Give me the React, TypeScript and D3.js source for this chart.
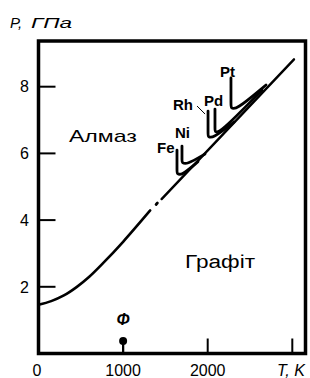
import React from "react";
import * as d3 from "d3";

const W = 310;
const H = 378;

// Main diamond/graphite equilibrium line (T in K, P in GPa)
const curveT = [0, 150, 300, 450, 600, 760, 1000, 1320];
const curveP = [1.46, 1.57, 1.74, 1.99, 2.3, 2.7, 3.35, 4.29];
const dotT = [1390, 1405];
const dotP = [4.47, 4.51];
const upperT = [1455, 3020];
const upperP = [4.63, 8.82];

// catalyst lines
const catNames = ["Fe", "Ni", "Rh", "Pd", "Pt"];
const catT = [
  [1637, 1637, 1684, 1885],
  [1696, 1696, 1743, 1968],
  [2004, 2004, 2051, 2311],
  [2086, 2086, 2134, 2642],
  [2275, 2275, 2323, 2689],
];
const catP = [
  [6.1, 5.41, 5.32, 5.75],
  [6.22, 5.74, 5.65, 5.98],
  [7.27, 6.52, 6.43, 6.94],
  [7.33, 6.67, 6.58, 7.9],
  [8.26, 7.39, 7.27, 8.05],
];
const labelT = [1402, 1613, 1590, 1956, 2145];
const labelP = [6.01, 6.46, 7.3, 7.42, 8.29];
const rhLeaderT = [1874, 1969];
const rhLeaderP = [7.42, 7.18];

const xTicks = [0, 1000, 2000, 3000];
const xTickLabels = ["0", "1000", "2000"];
const yTicks = [2, 4, 6, 8];

const regionNames = ["Алмаз", "Графіт"];
const regionT = [360, 1732];
const regionP = [6.34, 2.56];

const phiT = 1000;
const phiP = 0.85;
const phiDotP = 0.375;

export default function App() {
  const x = d3.scaleLinear().domain([0, 3156]).range([38.5, 305.5]);
  const y = d3.scaleLinear().domain([0, 9.37]).range([353.5, 41]);
  const lineC = d3
    .line<[number, number]>()
    .x((d) => x(d[0]))
    .y((d) => y(d[1]))
    .curve(d3.curveCatmullRom.alpha(0.5));
  const lineL = d3
    .line<[number, number]>()
    .x((d) => x(d[0]))
    .y((d) => y(d[1]));
  const lineB = d3
    .line<[number, number]>()
    .x((d) => x(d[0]))
    .y((d) => y(d[1]))
    .curve(d3.curveBasis);

  const zip = (a: number[], b: number[]) => a.map((v, i) => [v, b[i]] as [number, number]);
  const font = "'Liberation Sans', Arial, sans-serif";
  const x0 = x(0);
  const x1 = x(3156);
  const y0 = y(0);
  const y1 = y(9.37);

  return (
    <svg width={W} height={H} style={{ position: "absolute", left: 0, top: 0, background: "#fff" }}>
      <rect x={0} y={0} width={W} height={H} fill="#fff" />
      {/* frame */}
      <rect x={x0} y={y1} width={x1 - x0} height={y0 - y1} fill="none" stroke="#000" strokeWidth={3.5} />
      {/* y ticks */}
      {yTicks.map((t) => (
        <g key={t}>
          <line x1={x0} x2={x0 + 17} y1={y(t)} y2={y(t)} stroke="#000" strokeWidth={2} />
          <text x={29} y={y(t)} dy="0.36em" textAnchor="end" fontFamily={font} fontSize={16}>
            {t}
          </text>
        </g>
      ))}
      {/* x ticks */}
      {xTicks.slice(1).map((t) => (
        <line key={t} x1={x(t)} x2={x(t)} y1={y0} y2={y0 - 15} stroke="#000" strokeWidth={2} />
      ))}
      {xTickLabels.map((l, i) => (
        <text key={l} x={x(xTicks[i]) - (i === 0 ? 1.5 : 0)} y={376} textAnchor="middle" fontFamily={font} fontSize={16}>
          {l}
        </text>
      ))}
      <text x={277} y={376} fontFamily={font} fontSize={16} fontStyle="italic">
        T, K
      </text>
      <text x={10} y={28} fontFamily={font} fontSize={15} fontStyle="italic">
        P,
      </text>
      <text x={31} y={28} fontFamily={font} fontSize={15} fontStyle="italic" textLength={41} lengthAdjust="spacingAndGlyphs">
        ГПа
      </text>

      {/* main line */}
      <path d={lineC(zip(curveT, curveP)) || ""} fill="none" stroke="#000" strokeWidth={2.6} strokeLinecap="round" />
      <path d={lineL(zip(dotT, dotP)) || ""} fill="none" stroke="#000" strokeWidth={2.8} strokeLinecap="round" />
      <path d={lineL(zip(upperT, upperP)) || ""} fill="none" stroke="#000" strokeWidth={2.4} strokeLinecap="round" />

      {/* catalysts */}
      {catNames.map((n, i) => (
        <g key={n}>
          <path
            d={
              lineB(
                zip(
                  [catT[i][0], catT[i][0], catT[i][1], catT[i][1], catT[i][2], catT[i][3], catT[i][3]],
                  [catP[i][0], catP[i][0], catP[i][1], catP[i][1], catP[i][2], catP[i][3], catP[i][3]]
                )
              ) || ""
            }
            fill="none"
            stroke="#000"
            strokeWidth={2.8}
            strokeLinecap="round"
          />
          <text x={x(labelT[i])} y={y(labelP[i])} fontFamily={font} fontSize={15} fontWeight="bold">
            {n}
          </text>
        </g>
      ))}
      <path d={lineL(zip(rhLeaderT, rhLeaderP)) || ""} fill="none" stroke="#000" strokeWidth={1} />

      {/* regions */}
      <text x={x(regionT[0])} y={y(regionP[0])} fontFamily={font} fontSize={17} textLength={68} lengthAdjust="spacingAndGlyphs">
        {regionNames[0]}
      </text>
      <text x={x(regionT[1])} y={y(regionP[1])} fontFamily={font} fontSize={18} textLength={70} lengthAdjust="spacingAndGlyphs">
        {regionNames[1]}
      </text>

      {/* Phi marker */}
      <line x1={x(phiT)} x2={x(phiT)} y1={y0} y2={y(phiDotP)} stroke="#000" strokeWidth={2.2} />
      <circle cx={x(phiT)} cy={y(phiDotP)} r={4} fill="#000" />
      <text x={x(phiT)} y={y(phiP)} textAnchor="middle" fontFamily={font} fontSize={16} fontWeight="bold" fontStyle="italic">
        Φ
      </text>
    </svg>
  );
}
